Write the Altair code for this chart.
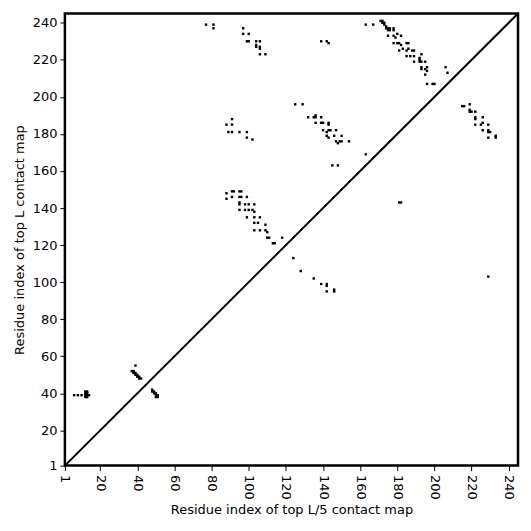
import altair as alt
import pandas as pd

# residue index pairs (x = residue i, y = residue j)
x_res = [77, 81, 81, 97, 97, 100, 99, 100, 104, 106, 104, 104, 106, 106, 106, 109,
         139, 142, 143, 163, 167,
         171, 172, 172, 173, 173, 174, 174, 175, 175, 176, 176, 178, 178,
         175, 178, 179, 180, 182, 178, 180, 181, 182, 185, 186,
         181, 183, 185, 186, 188, 189, 185, 187, 189, 193, 192, 192,
         189, 192, 193, 195, 193, 193, 195, 196, 196, 195, 196, 199, 200, 206, 207,
         88, 91, 91, 89, 91, 95, 99, 99, 102,
         125, 129, 132, 135, 136, 136, 139, 136, 139, 140, 143, 143,
         140, 142, 143, 144, 147, 142, 143, 146, 150, 147, 149, 150, 154, 148,
         163, 145, 148,
         88, 91, 92, 95, 96, 88, 91, 95, 96, 99, 95, 95, 98, 100, 103,
         95, 98, 100, 102, 103, 99, 103, 106, 103, 105, 109, 103, 106, 109, 110,
         110, 111, 118, 113, 114, 124, 128, 135, 139, 142, 142, 142, 146, 146,
         6, 8, 10, 12, 13, 12, 13, 12, 13, 12, 13, 14,
         39, 37, 38, 38, 39, 39, 40, 40, 41, 41, 42,
         48, 48, 49, 49, 50, 50, 51, 51, 50,
         215, 216, 219, 219, 219, 220, 222, 222, 222, 226,
         222, 225, 226, 229, 226, 229, 230, 229, 229, 233, 233,
         181, 182, 229]
y_res = [239, 239, 237, 237, 234, 234, 230, 230, 230, 230, 228, 227, 227, 226, 223, 223,
         230, 230, 229, 239, 239,
         241, 241, 240, 240, 239, 238, 237, 237, 236, 236, 237, 237, 236,
         233, 233, 232, 234, 233, 229, 229, 229, 228, 229, 229,
         225, 226, 225, 226, 225, 225, 222, 222, 222, 223, 221, 220,
         219, 219, 219, 219, 216, 215, 215, 214, 216, 212, 207, 207, 207, 216, 213,
         185, 188, 185, 181, 181, 181, 181, 178, 177,
         196, 196, 189, 189, 189, 190, 189, 186, 186, 186, 186, 185,
         182, 181, 182, 182, 182, 179, 178, 179, 179, 176, 176, 176, 176, 175,
         169, 163, 163,
         148, 149, 149, 149, 149, 145, 146, 146, 146, 146, 143, 142, 142, 142, 142,
         139, 139, 139, 139, 138, 135, 135, 135, 132, 132, 131, 128, 128, 128, 127,
         124, 124, 124, 121, 121, 113, 106, 102, 99, 99, 98, 95, 96, 95,
         39, 39, 39, 41, 41, 40, 40, 39, 39, 38, 38, 39,
         55, 52, 52, 51, 51, 50, 50, 49, 49, 48, 48,
         42, 41, 41, 40, 40, 39, 39, 38, 38,
         195, 195, 196, 193, 192, 192, 192, 189, 188, 189,
         185, 185, 186, 185, 182, 182, 181, 181, 178, 179, 178,
         143, 143, 103]

diag_ends = [1, 245]
tick_vals = [1, 20, 40, 60, 80, 100, 120, 140, 160, 180, 200, 220, 240]

L_MIN, L_MAX = 1, 245

contacts = pd.DataFrame({"x": x_res, "y": y_res})
diag = pd.DataFrame({"x": diag_ends, "y": diag_ends})

xscale = alt.Scale(domain=[L_MIN, L_MAX], nice=False, zero=False)
yscale = alt.Scale(domain=[L_MIN, L_MAX], nice=False, zero=False)

FONT = "DejaVu Sans"

xaxis = alt.Axis(values=tick_vals, title="Residue index of top L/5 contact map",
                 labelAngle=90, labelAlign="left", labelBaseline="middle")
yaxis = alt.Axis(values=tick_vals, title="Residue index of top L contact map")

points = alt.Chart(contacts).transform_calculate(
    x0="datum.x - 0.65", x1="datum.x + 0.65",
    y0="datum.y - 0.65", y1="datum.y + 0.65"
).mark_rect(color="black").encode(
    x=alt.X("x0:Q", scale=xscale, axis=xaxis),
    x2="x1:Q",
    y=alt.Y("y0:Q", scale=yscale, axis=yaxis),
    y2="y1:Q",
)

line = alt.Chart(diag).mark_line(color="black", strokeWidth=2, clip=True).encode(
    x=alt.X("x:Q", scale=xscale, axis=xaxis),
    y=alt.Y("y:Q", scale=yscale, axis=yaxis),
)

chart = alt.layer(points, line).properties(
    width=454, height=453, background="white"
).configure_view(
    stroke="black", strokeWidth=2.5
).configure_axis(
    grid=False, domain=False, tickColor="black", tickSize=5,
    labelColor="black", titleColor="black", labelFontSize=13,
    titleFontSize=13, labelFont=FONT, titleFont=FONT,
    titleFontWeight="normal", labelOverlap=False, labelFlush=False
).configure_axisX(
    labelAngle=90, labelAlign="left", labelBaseline="middle",
    labelPadding=4, titlePadding=4
).configure_axisY(
    labelPadding=3, titlePadding=6
)

chart.save("out.html", embed_options={"renderer": "svg", "actions": False})
